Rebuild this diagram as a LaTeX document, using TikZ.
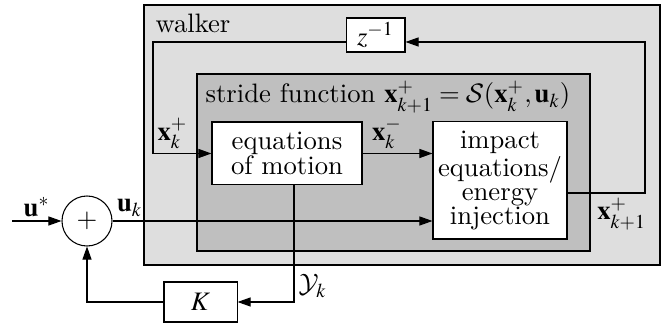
\documentclass[tikz,border=0pt]{standalone}
\usepackage{mathptmx}
\DeclareMathAlphabet{\mathcal}{OMS}{cmsy}{m}{n}
\usetikzlibrary{arrows.meta,positioning}
\definecolor{walkergrey}{HTML}{DEDEDE}
\definecolor{stridegrey}{HTML}{BFBFBF}
\begin{document}
\begin{tikzpicture}[x=0.375pt,y=-0.375pt,font=\fontsize{10}{9.1}\selectfont,
  blk/.style={draw,fill=white,align=center,inner sep=1pt},
  sumnode/.style={circle,draw,fill=white,minimum size=18.75pt,inner sep=0pt},
  lbl/.style={inner sep=1.5pt},
  arr/.style={-{Triangle[length=4.9pt,width=3.4pt]}}]
  \useasboundingbox (0,0) rectangle (665,329);
  \draw[fill=walkergrey] (144,5) rectangle (660,265);
  \draw[fill=stridegrey] (197,74) rectangle (590,251);
  \node[anchor=base west,inner sep=0pt] (wlab) at (155,33) {walker};
  \node[anchor=base west,inner sep=0pt] (slab) at (205,103) {stride function $\mathbf{x}^+_{k+1}=\mathcal{S}(\mathbf{x}^+_k,\mathbf{u}_k)$};
  \node[blk,minimum width=56.25pt,minimum height=23.6pt] (eom) at (287,153.5) {equations\\of motion};
  \node[blk,minimum width=50.25pt,minimum height=43.9pt] (imp) at (500,180.5) {impact\\equations/\\energy\\injection};
  \node[blk,minimum width=22.1pt,minimum height=12.75pt] (zinv) at (375.5,35) {$z^{-1}$};
  \node[blk,minimum width=27.4pt,minimum height=15pt] (gain) at (200.5,302) {$K$};
  \node[sumnode] (sum) at (87,221) {$+$};
  \coordinate (rtop) at (645,42); \coordinate (ltop) at (153,42);
  \coordinate (uin) at (12,221); \coordinate (ycor) at (294,302);
  \draw[arr] ([yshift=-4.7pt]imp.east) -| (rtop) node[pos=0.35,below,lbl]{$\mathbf{x}^+_{k+1}$} -- (zinv.east |- rtop);
  \draw[arr] (zinv.west |- ltop) -- (ltop) |- (eom.west);
  \node[lbl,anchor=south west] (xklab) at (ltop |- eom.west) {$\mathbf{x}^+_k$};
  \draw[arr] (eom.east) -- (eom.east -| imp.west) node[pos=0.35,above,lbl]{$\mathbf{x}^-_k$};
  \draw[arr] (uin) -- (sum.west) node[midway,above,lbl]{$\mathbf{u}^*$};
  \draw[arr] (sum.east) -- (sum.east -| imp.west) node[pos=0,anchor=south west,lbl]{$\mathbf{u}_k$};
  \draw[arr] (eom.south -| ycor) -- (ycor) -- (gain.east);
  \node[lbl,anchor=south west] (ylab) at (ycor) {$\mathcal{Y}_k$};
  \draw[arr] (gain.west) -| (sum.south);
\end{tikzpicture}
\end{document}
